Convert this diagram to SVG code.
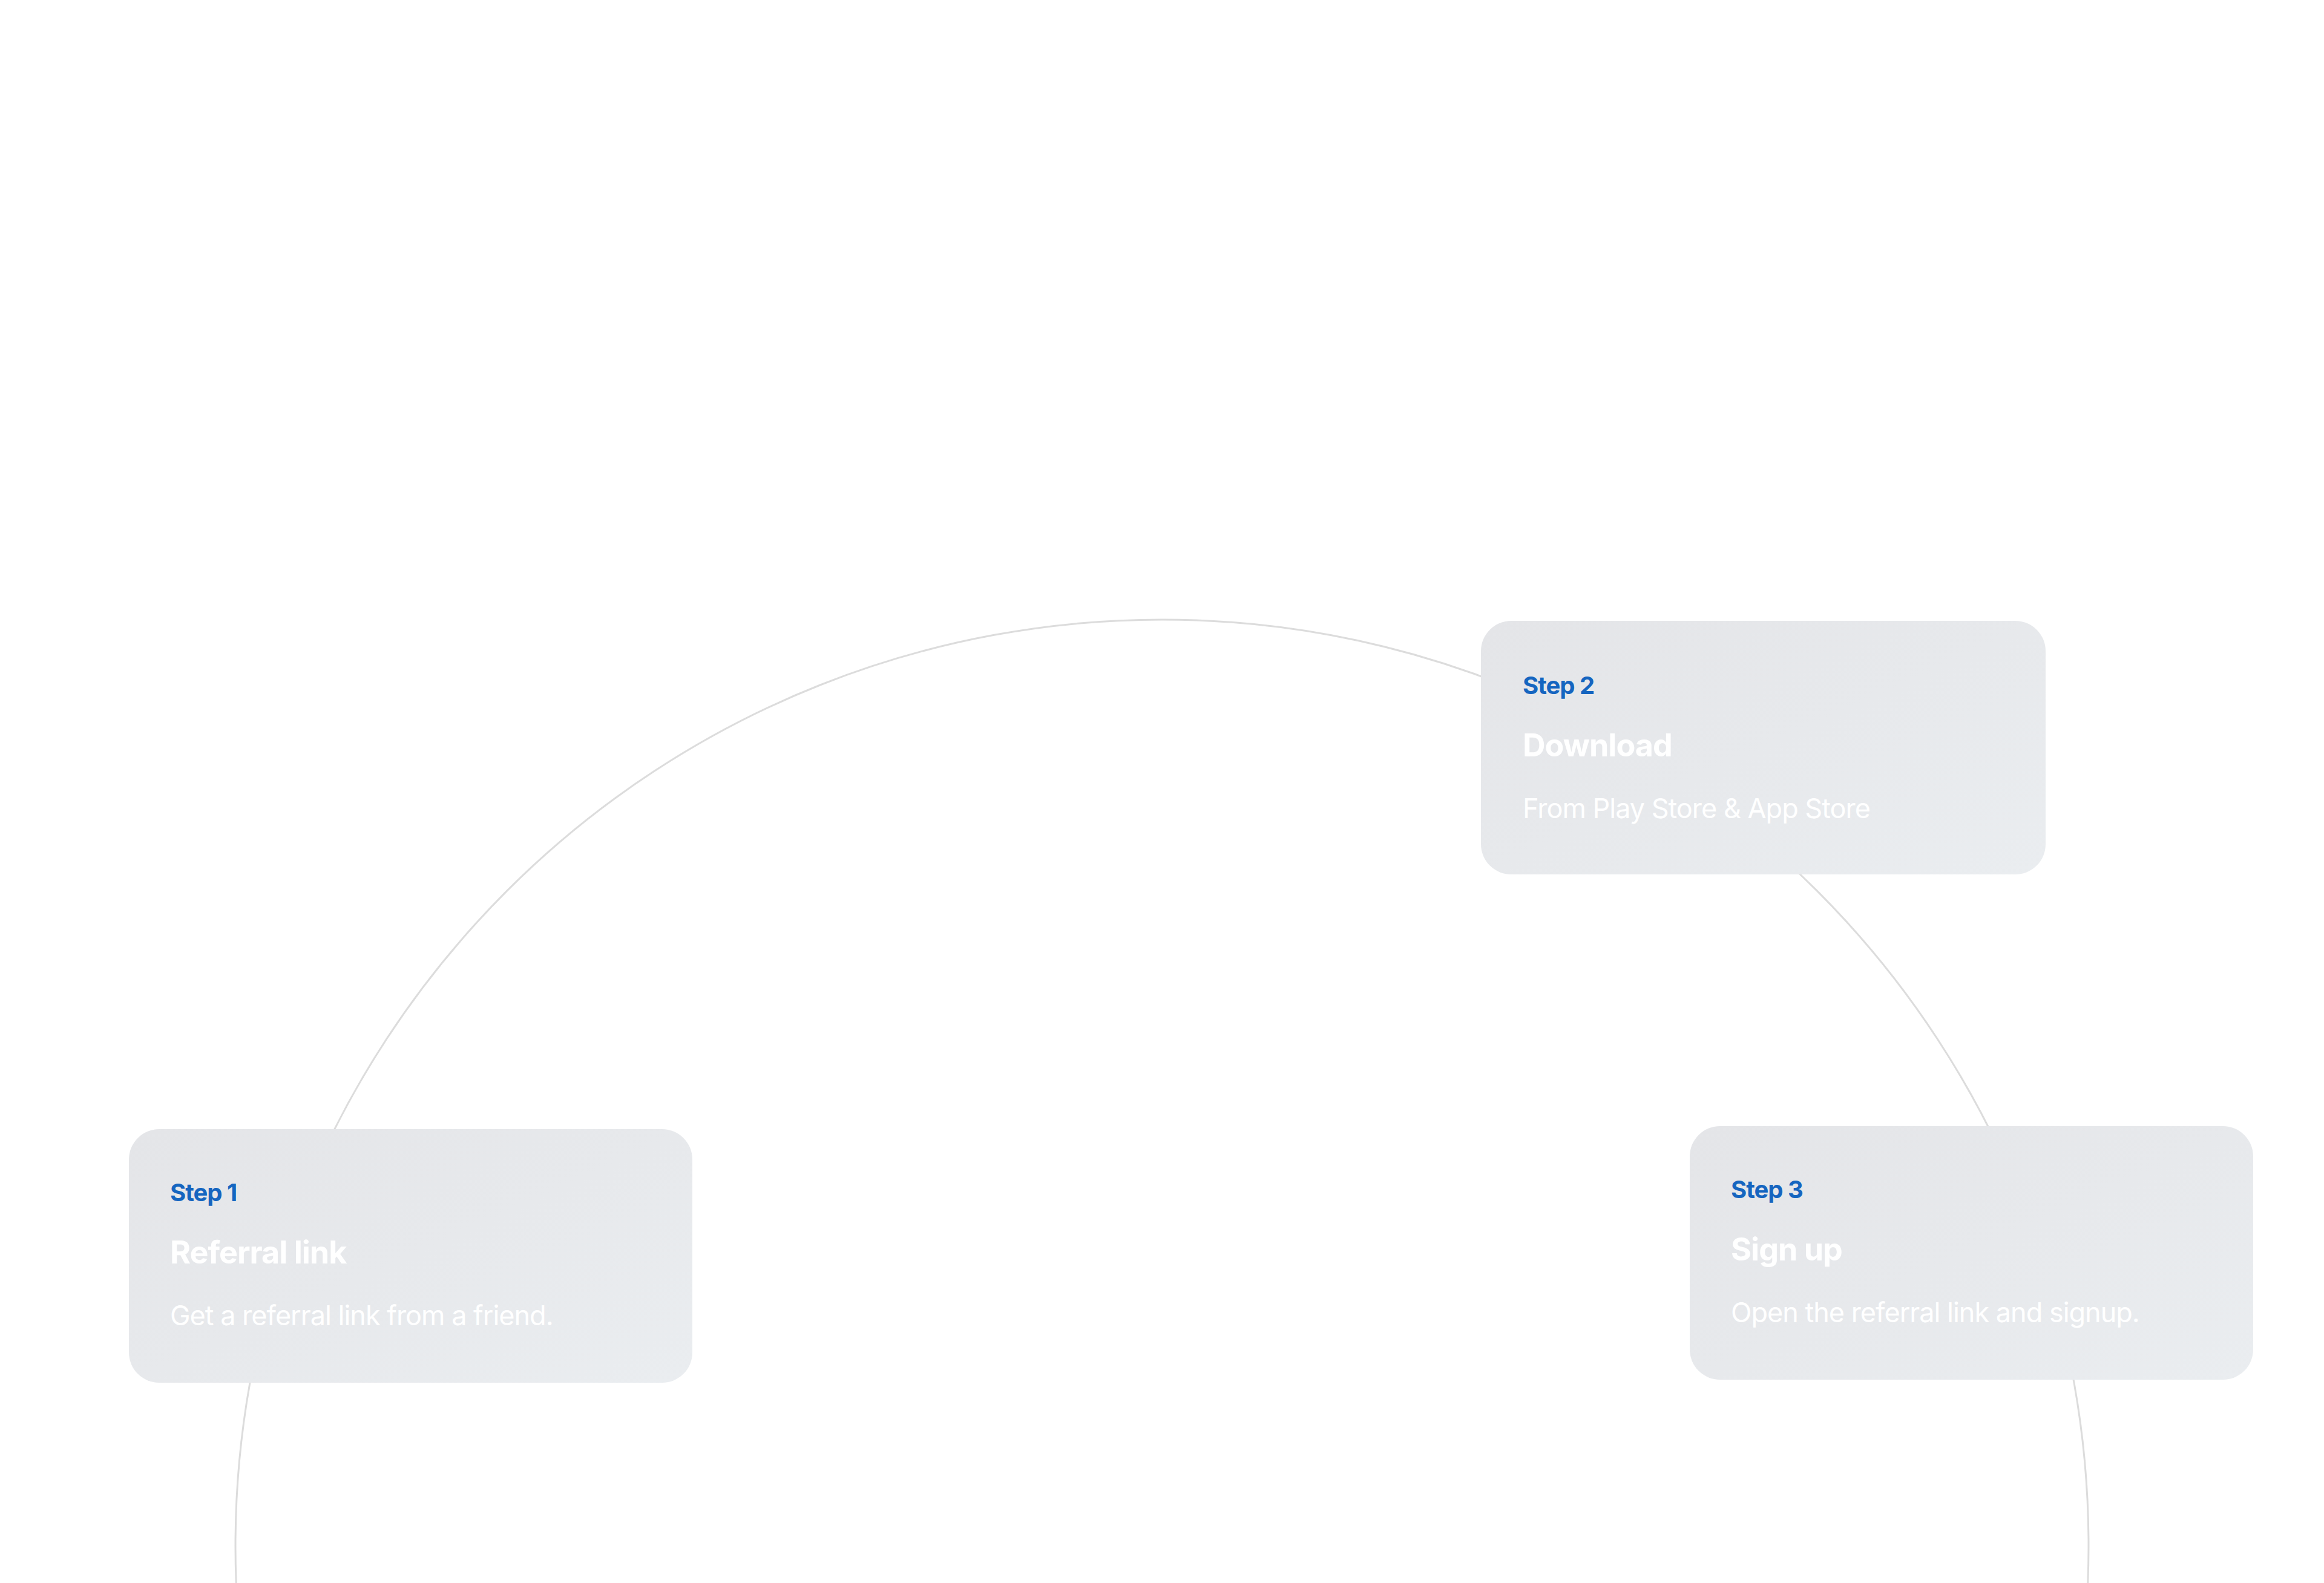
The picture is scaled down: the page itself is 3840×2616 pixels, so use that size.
<svg xmlns="http://www.w3.org/2000/svg" width="3840" height="2616" viewBox="0 0 3840 2616">
<defs>
<linearGradient id="g" x1="0" y1="0" x2="1" y2="1">
<stop offset="0" stop-color="#e4e5e8"/><stop offset="1" stop-color="#eaedf0"/>
</linearGradient>
<clipPath id="c"><rect x="0" y="0" width="3840" height="2616"/></clipPath>
</defs>
<style>
.card{fill:url(#g)}
.step{font-family:Inter,"Noto Sans",sans-serif;font-weight:700;font-size:40px;fill:#1565c0;letter-spacing:-1px}
.title{font-family:Inter,"Noto Sans",sans-serif;font-weight:700;font-size:52px;fill:#fff;letter-spacing:-1px}
.desc{font-family:Inter,"Noto Sans",sans-serif;font-size:45px;fill:#fff;letter-spacing:-1px}
</style>
<rect width="3840" height="2616" fill="#fff"/>
<g id="connectors"><circle cx="1920" cy="2555" r="1531" fill="none" stroke="#dcdcdc" stroke-width="3" clip-path="url(#c)"/></g>
<g id="step1"><rect class="card" x="213" y="1866" width="931" height="419" rx="50"/>
<text class="step" x="281" y="1985">Step 1</text><text class="title" x="281" y="2088">Referral link</text><text class="desc" x="281" y="2190">Get a referral link from a friend.</text></g>
<g id="step2"><rect class="card" x="2447" y="1026" width="933" height="419" rx="50"/>
<text class="step" x="2516" y="1147">Step 2</text><text class="title" x="2516" y="1250">Download</text><text class="desc" x="2516" y="1352">From Play Store &amp; App Store</text></g>
<g id="step3"><rect class="card" x="2792" y="1861" width="931" height="419" rx="50"/>
<text class="step" x="2860" y="1980">Step 3</text><text class="title" x="2860" y="2083">Sign up</text><text class="desc" x="2860" y="2185">Open the referral link and signup.</text></g>
</svg>
